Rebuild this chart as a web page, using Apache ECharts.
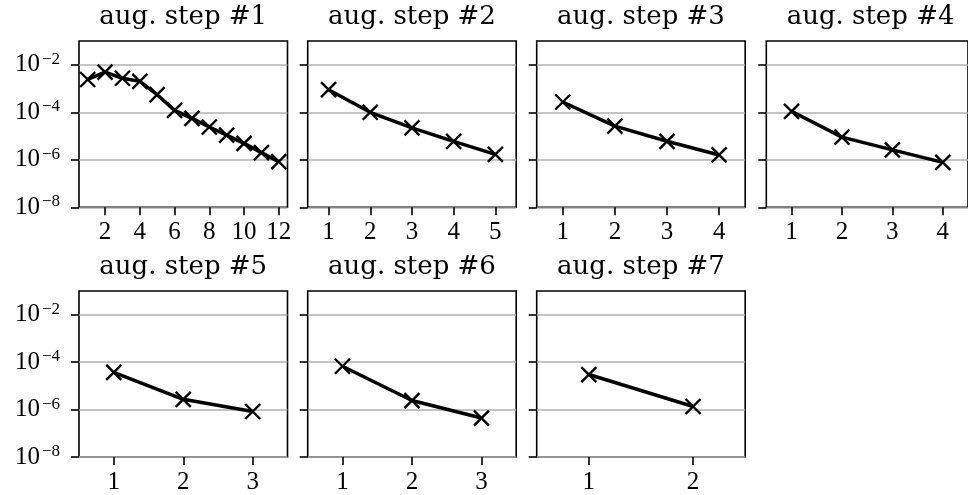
<!DOCTYPE html>
<html>
<head>
<meta charset="utf-8">
<script src="https://cdn.jsdelivr.net/npm/echarts@6/dist/echarts.min.js"></script>
<style>
  html, body { margin: 0; padding: 0; background: #fff; }
  #main { width: 968px; height: 495px; }
</style>
</head>
<body>
<div id="main"></div>
<script>
// panel titles
var titles = ['aug. step #1', 'aug. step #2', 'aug. step #3', 'aug. step #4',
              'aug. step #5', 'aug. step #6', 'aug. step #7'];

// values per augmentation step (x = 1..n)
var step1 = [2.4e-3, 4.9e-3, 2.7e-3, 2.0e-3, 5.5e-4, 1.2e-4, 5.5e-5, 2.4e-5, 1.1e-5, 4.9e-6, 2.0e-6, 8.3e-7];
var step2 = [8.9e-4, 1.0e-4, 2.2e-5, 6.0e-6, 1.7e-6];
var step3 = [2.7e-4, 2.6e-5, 6.0e-6, 1.6e-6];
var step4 = [1.1e-4, 9.0e-6, 2.6e-6, 7.8e-7];
var step5 = [3.7e-5, 2.7e-6, 8.3e-7];
var step6 = [6.7e-5, 2.4e-6, 4.4e-7];
var step7 = [3.0e-5, 1.35e-6];

// tick labels
var step1XTicks = ['2', '4', '6', '8', '10', '12'];
var yTickValues = [1e-8, 1e-6, 1e-4, 1e-2];

var allSteps = [step1, step2, step3, step4, step5, step6, step7];

var colLeft = [79, 307.7, 536.7, 766.3];
var rowTop = [41, 291];
var W = 208.5, H = 166.3;
var serif = 'Liberation Serif';

var grids = [], xAxes = [], yAxes = [], series = [], titleOpts = [];

allSteps.forEach(function (vals, i) {
    var row = i < 4 ? 0 : 1;
    var col = i % 4;
    var cats = vals.map(function (v, k) { return String(k + 1); });
    var showCat = function (idx, val) {
        if (i === 0) return step1XTicks.indexOf(String(val)) >= 0;
        return true;
    };

    grids.push({
        left: colLeft[col], top: rowTop[row], width: W, height: H,
        show: true, borderColor: '#000', borderWidth: 1.6,
        backgroundColor: 'transparent'
    });

    titleOpts.push({
        text: titles[i],
        left: colLeft[col] + W / 2,
        top: row === 0 ? 4 : 254,
        textAlign: 'center',
        padding: 0,
        textStyle: { fontFamily: 'DejaVu Serif', fontSize: 26, fontWeight: 'normal', color: '#000' }
    });

    xAxes.push({
        type: 'category', gridIndex: i, data: cats, boundaryGap: true,
        axisLine: { show: false },
        axisTick: { show: true, alignWithLabel: true, interval: showCat, length: 8,
                    lineStyle: { color: '#000', width: 1.6 } },
        axisLabel: { interval: showCat, margin: 13, fontFamily: serif, fontSize: 25, color: '#000' },
        splitLine: { show: false }
    });

    yAxes.push({
        type: 'log', gridIndex: i, logBase: 10, min: 1e-8, max: 1e-1, interval: 2,
        axisLine: { show: false },
        axisTick: { show: true, length: 8, customValues: yTickValues,
                    lineStyle: { color: '#000', width: 1.6 } },
        minorTick: { show: false },
        axisLabel: {
            show: col === 0,
            customValues: yTickValues,
            margin: 19,
            formatter: function (v) {
                var e = Math.round(Math.log10(v));
                if (e % 2 !== 0) return '';
                return '{b|10}{s|\u2212' + (-e) + '}';
            },
            rich: {
                b: { fontFamily: serif, fontSize: 25, lineHeight: 28, color: '#000' },
                s: { fontFamily: serif, fontSize: 17, lineHeight: 17, verticalAlign: 'top',
                     padding: [0, 0, 0, 2], color: '#000' }
            }
        },
        splitLine: { show: true, lineStyle: { color: '#b0b0b0', width: 1.6 } }
    });

    series.push({
        type: 'line', xAxisIndex: i, yAxisIndex: i, data: vals,
        symbol: 'path://M0 0L10 10M10 0L0 10', symbolSize: 15, showAllSymbol: true,
        lineStyle: { color: '#000', width: 3.5, join: 'round' },
        itemStyle: { color: '#000', borderColor: '#000', borderWidth: 2.4 },
        emphasis: { disabled: true }
    });
});

var chart = echarts.init(document.getElementById('main'));
chart.setOption({
    animation: false,
    backgroundColor: '#fff',
    title: titleOpts,
    grid: grids,
    xAxis: xAxes,
    yAxis: yAxes,
    series: series
});
</script>
</body>
</html>
